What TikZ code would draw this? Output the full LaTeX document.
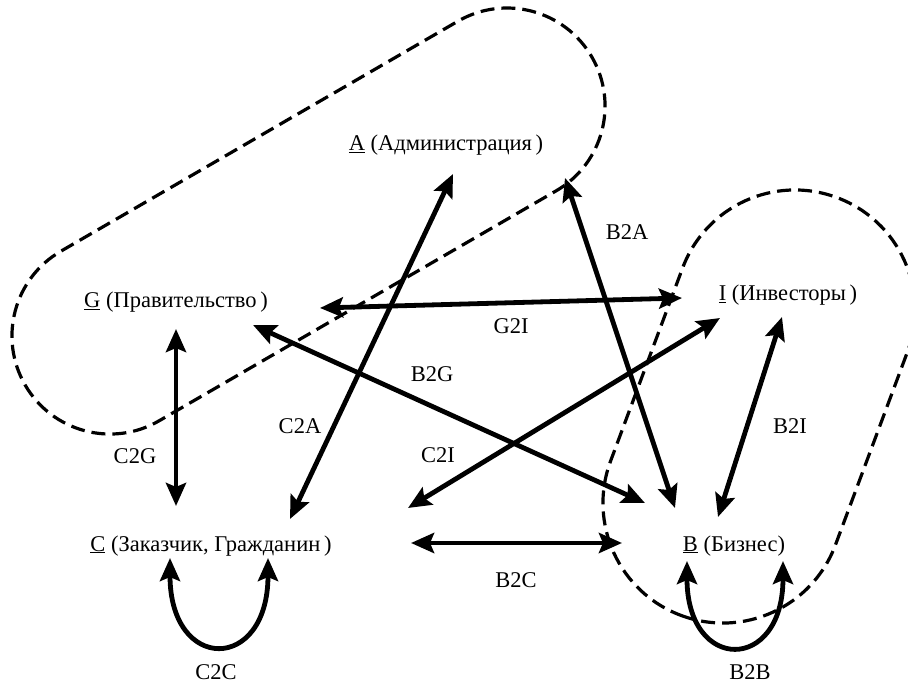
\documentclass[tikz,border=0pt]{standalone}
\usepackage{fontspec}
\setmainfont{Liberation Serif}
\usetikzlibrary{arrows.meta}
\begin{document}
\begin{tikzpicture}[x=1pt,y=-1pt,
  conn/.style={line width=4.8pt, {Stealth[length=23pt,width=20pt,inset=4pt]}-{Stealth[length=23pt,width=20pt,inset=4pt]}},
  grp/.style={line width=3.2pt, dash pattern=on 14pt off 7pt},
  ent/.style={font=\fontsize{22.5}{26}\selectfont, inner sep=0pt, anchor=base},
  lab/.style={font=\fontsize{22.5}{26}\selectfont, inner sep=0pt}]
\useasboundingbox (0,0) rectangle (908,684);
% dashed groups
\begin{scope}[shift={(110,336)}, rotate=30.08]
  \draw[grp, rounded corners=97.9pt] (-98,-98) rectangle (556.8,98);
\end{scope}
\begin{scope}[shift={(723,503)}, rotate=69.54]
  \draw[grp, rounded corners=119.9pt] (-120,-120) rectangle (326,120);
\end{scope}
% entities
\node[ent] (A) at (446,151) {\underline{A} (Администрация\,)};
\node[ent] (G) at (176,308) {\underline{G} (Правительство\,)};
\node[ent] (I) at (788,301) {\underline{I} (Инвесторы\,)};
\node[ent] (C) at (211,551) {\underline{C} (Заказчик, Гражданин\,)};
\node[ent] (B) at (734,551) {\underline{B} (Бизнес)};
% arrow end points
\coordinate (c2a1) at (290,519);  \coordinate (c2a2) at (453,174);
\coordinate (b2a1) at (675,508);  \coordinate (b2a2) at (565,178);
\coordinate (g2i1) at (320,308);  \coordinate (g2i2) at (682,298);
\coordinate (b2g1) at (253,325);  \coordinate (b2g2) at (645,503);
\coordinate (c2i1) at (408,508);  \coordinate (c2i2) at (720,318);
\coordinate (c2g1) at (176,329);  \coordinate (c2g2) at (176,506);
\coordinate (b2c1) at (411,543);  \coordinate (b2c2) at (622,543);
\coordinate (b2i1) at (782,317);  \coordinate (b2i2) at (718,517);
\coordinate (c2c1) at (170,558);  \coordinate (c2c2) at (268,558);
\coordinate (b2b1) at (687,561);  \coordinate (b2b2) at (783,561);
% connectors
\draw[conn] (c2a1) -- (c2a2);
\draw[conn] (b2a1) -- (b2a2);
\draw[conn] (g2i1) -- (g2i2);
\draw[conn] (b2g1) -- (b2g2);
\draw[conn] (c2i1) -- (c2i2);
\draw[conn] (c2g1) -- (c2g2);
\draw[conn] (b2c1) -- (b2c2);
\draw[conn] (b2i1) -- (b2i2);
\draw[conn] (c2c1) .. controls +(0,115) and +(0,115) .. (c2c2);
\draw[conn] (b2b1) .. controls +(0,112) and +(0,112) .. (b2b2);
% labels
\node[lab] (lB2A) at (627,232) {B2A};
\node[lab] (lG2I) at (511,326) {G2I};
\node[lab] (lB2G) at (432,374) {B2G};
\node[lab] (lC2A) at (300,426) {C2A};
\node[lab] (lC2I) at (438,455) {C2I};
\node[lab] (lC2G) at (135,456) {C2G};
\node[lab] (lB2I) at (790,426) {B2I};
\node[lab] (lB2C) at (516,580) {B2C};
\node[lab] (lC2C) at (216,672) {C2C};
\node[lab] (lB2B) at (750,672) {B2B};
\end{tikzpicture}
\end{document}
